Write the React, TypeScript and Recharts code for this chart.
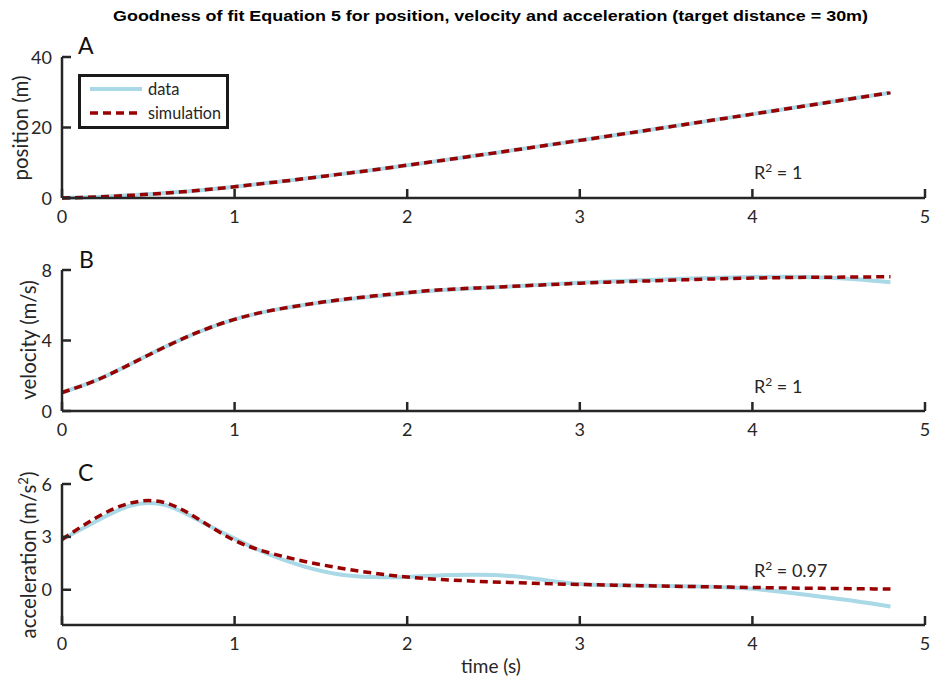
import React from 'react';
import { LineChart, Line, XAxis, YAxis, Customized } from 'recharts';

const times = [0, 0.2, 0.4, 0.6, 0.8, 1.0, 1.2, 1.4, 1.6, 1.8, 2.0, 2.2, 2.4, 2.6, 2.8, 3.0, 3.2, 3.4, 3.6, 3.8, 4.0, 4.2, 4.4, 4.6, 4.8];

const positionData = [0, 0.3, 0.75, 1.4, 2.2, 3.2, 4.3, 5.45, 6.7, 7.95, 9.3, 10.65, 12.05, 13.45, 14.9, 16.35, 17.8, 19.3, 20.8, 22.3, 23.8, 25.3, 26.85, 28.35, 29.85];
const positionSim = [0, 0.3, 0.75, 1.4, 2.2, 3.2, 4.3, 5.45, 6.7, 7.95, 9.3, 10.65, 12.05, 13.45, 14.9, 16.35, 17.8, 19.3, 20.8, 22.3, 23.8, 25.3, 26.85, 28.35, 29.9];

const velocityData = [1.05, 1.75, 2.68, 3.65, 4.52, 5.2, 5.68, 6.02, 6.28, 6.5, 6.7, 6.86, 6.97, 7.07, 7.18, 7.28, 7.36, 7.43, 7.5, 7.56, 7.6, 7.62, 7.58, 7.48, 7.3];
const velocitySim = [1.05, 1.75, 2.68, 3.65, 4.52, 5.2, 5.68, 6.02, 6.3, 6.52, 6.72, 6.88, 6.98, 7.07, 7.16, 7.25, 7.32, 7.38, 7.44, 7.5, 7.54, 7.57, 7.59, 7.6, 7.62];

const accelerationData = [2.85, 3.9, 4.78, 4.8, 3.9, 2.9, 2.0, 1.33, 0.88, 0.72, 0.72, 0.82, 0.85, 0.78, 0.55, 0.32, 0.25, 0.22, 0.2, 0.15, 0.05, -0.15, -0.4, -0.65, -0.95];
const accelerationSim = [2.85, 4.1, 4.93, 4.93, 3.95, 2.8, 2.1, 1.62, 1.25, 0.95, 0.72, 0.58, 0.48, 0.41, 0.35, 0.3, 0.26, 0.22, 0.19, 0.16, 0.13, 0.1, 0.08, 0.06, 0.04];

const xTicks = [0, 1, 2, 3, 4, 5];
const positionTicks = [0, 20, 40];
const velocityTicks = [0, 4, 8];
const accelerationTicks = [0, 3, 6];

const seriesNames = ['data', 'simulation'];
const r2Labels = ['1', '1', '0.97'];
const panelLetters = ['A', 'B', 'C'];

const build = (a: number[], b: number[]) => times.map((t, i) => ({ t, data: a[i], sim: b[i] }));
const rowsA = build(positionData, positionSim);
const rowsB = build(velocityData, velocitySim);
const rowsC = build(accelerationData, accelerationSim);

const AX = '#262626';
const FONT = 'Lato, "Noto Sans", sans-serif';
const DATA_COLOR = '#a9d8e6';
const SIM_COLOR = '#990000';

const XTick = (props: any) => {
  const { x, y, payload } = props;
  return (
    <g>
      <line x1={x} x2={x} y1={y} y2={y - 9} stroke={AX} strokeWidth={2.5} />
      <text x={x} y={y + 25} textAnchor="middle" fontSize={18} fontFamily={FONT} fill={AX}>
        {payload.value}
      </text>
    </g>
  );
};

const YTick = (props: any) => {
  const { x, y, payload } = props;
  return (
    <g>
      <line x1={x} x2={x + 9} y1={y} y2={y} stroke={AX} strokeWidth={2.5} />
      <text x={x - 10} y={y + 6.5} textAnchor="end" fontSize={18} fontFamily={FONT} fill={AX}>
        {payload.value}
      </text>
    </g>
  );
};

const R2 = ({ x, y, value }: { x: number; y: number; value: string }) => (
  <text x={x} y={y} fontSize={18} fontFamily={FONT} fill={AX}>
    R
    <tspan dy={-7} fontSize={12}>2</tspan>
    <tspan dy={7}>{' = ' + value}</tspan>
  </text>
);

const Panel = ({
  rows,
  top,
  bottom,
  domain,
  ticks,
  children,
}: {
  rows: any[];
  top: number;
  bottom: number;
  domain: [number, number];
  ticks: number[];
  children?: React.ReactNode;
}) => (
  <div style={{ position: 'absolute', left: 0, top: 0 }}>
    <LineChart width={933} height={686} data={rows} margin={{ top, right: 8, bottom: 686 - bottom - 30, left: 0 }}>
      <XAxis
        dataKey="t"
        type="number"
        domain={[0, 5]}
        ticks={xTicks}
        interval={0}
        height={30}
        tickSize={0}
        tickMargin={0}
        tickLine={false}
        axisLine={{ stroke: AX, strokeWidth: 2.5 }}
        tick={(p: any) => <XTick {...p} />}
      />
      <YAxis
        type="number"
        domain={domain}
        ticks={ticks}
        interval={0}
        width={62}
        tickSize={0}
        tickMargin={0}
        tickLine={false}
        axisLine={{ stroke: AX, strokeWidth: 2.5 }}
        tick={(p: any) => <YTick {...p} />}
      />
      <Line dataKey="data" name={seriesNames[0]} type="natural" stroke={DATA_COLOR} strokeWidth={4} dot={false} isAnimationActive={false} />
      <Line dataKey="sim" name={seriesNames[1]} type="natural" stroke={SIM_COLOR} strokeWidth={3.5} strokeDasharray="8 5" dot={false} isAnimationActive={false} />
      {children}
    </LineChart>
  </div>
);

const PanelAExtras = () => (
  <g>
    <text x={490.5} y={21} textAnchor="middle" fontSize={15.5} fontWeight="bold" fontFamily='"Liberation Sans", Arial, sans-serif' fill="#000" textLength={755} lengthAdjust="spacingAndGlyphs">
      Goodness of fit Equation 5 for position, velocity and acceleration (target distance = 30m)
    </text>
    <text x={78} y={54} fontSize={23} fontFamily={FONT} fill="#111">{panelLetters[0]}</text>
    <text transform="translate(28,128) rotate(-90)" textAnchor="middle" fontSize={20.5} fontFamily={FONT} fill={AX}>
      position (m)
    </text>
    <R2 x={754} y={179} value={r2Labels[0]} />
    <rect x={79.5} y={75.5} width={148} height={52} fill="#fff" stroke="#1a1a1a" strokeWidth={3} />
    <line x1={90} x2={142} y1={89} y2={89} stroke={DATA_COLOR} strokeWidth={4} />
    <text x={148} y={95} fontSize={16.5} fontFamily={FONT} fill={AX}>{seriesNames[0]}</text>
    <line x1={90} x2={142} y1={113} y2={113} stroke={SIM_COLOR} strokeWidth={3.5} strokeDasharray="8 5" />
    <text x={148} y={119} fontSize={16.5} fontFamily={FONT} fill={AX} textLength={73} lengthAdjust="spacingAndGlyphs">{seriesNames[1]}</text>
  </g>
);

const PanelBExtras = () => (
  <g>
    <text x={79} y={268} fontSize={23} fontFamily={FONT} fill="#111">{panelLetters[1]}</text>
    <text transform="translate(36,340) rotate(-90)" textAnchor="middle" fontSize={20.5} fontFamily={FONT} fill={AX}>
      velocity (m/s)
    </text>
    <R2 x={754} y={393} value={r2Labels[1]} />
  </g>
);

const PanelCExtras = () => (
  <g>
    <text x={78} y={481} fontSize={23} fontFamily={FONT} fill="#111">{panelLetters[2]}</text>
    <text transform="translate(36,555) rotate(-90)" textAnchor="middle" fontSize={20.5} fontFamily={FONT} fill={AX}>
      acceleration (m/s
      <tspan dy={-8} fontSize={13}>2</tspan>
      <tspan dy={8}>)</tspan>
    </text>
    <R2 x={754} y={577} value={r2Labels[2]} />
    <text x={491} y={673} textAnchor="middle" fontSize={19} fontFamily={FONT} fill={AX}>
      time (s)
    </text>
  </g>
);

export default function App() {
  return (
    <div style={{ position: 'absolute', left: 0, top: 0, width: 933, height: 686, background: '#fff' }}>
      <Panel rows={rowsC} top={484} bottom={625} domain={[-2, 6]} ticks={accelerationTicks}>
        <Customized component={PanelCExtras} />
      </Panel>
      <Panel rows={rowsB} top={270} bottom={411} domain={[0, 8]} ticks={velocityTicks}>
        <Customized component={PanelBExtras} />
      </Panel>
      <Panel rows={rowsA} top={57} bottom={198} domain={[0, 40]} ticks={positionTicks}>
        <Customized component={PanelAExtras} />
      </Panel>
    </div>
  );
}
